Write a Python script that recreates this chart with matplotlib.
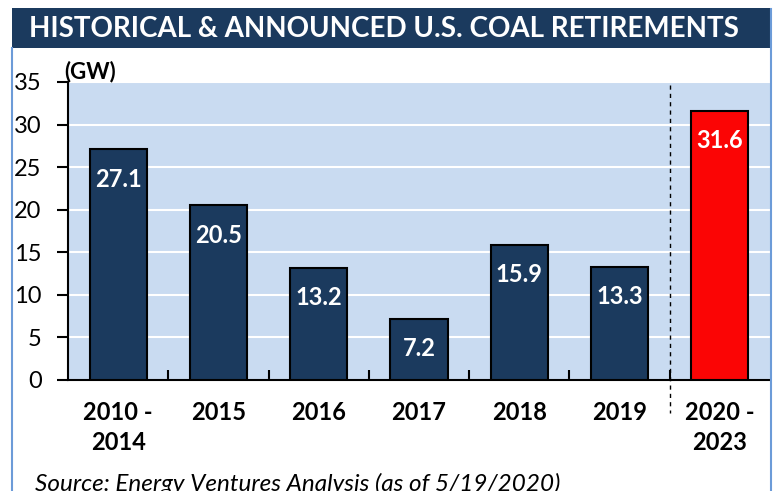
import matplotlib.pyplot as plt
from matplotlib.lines import Line2D
from matplotlib.patches import Rectangle

categories = ["2010 -\n2014", "2015", "2016", "2017", "2018", "2019", "2020 -\n2023"]
values = [27.1, 20.5, 13.2, 7.2, 15.9, 13.3, 31.6]
bar_colors = ["#1B3A5E"] * 6 + ["#FB0505"]
y_ticks = [0, 5, 10, 15, 20, 25, 30, 35]

NAVY = "#1B3A5E"
BG = "#C9DBF1"
BORDER = "#6C9BD8"
FONT = "Lato"

plt.rcParams["font.family"] = [FONT, "DejaVu Sans"]

fig = plt.figure(figsize=(7.74, 4.91), dpi=100)
W, H = 774, 491

# title bar
fig.patches.append(Rectangle((11.5 / W, 1 - 48 / H), (772 - 11.5) / W, 40 / H,
                             transform=fig.transFigure, facecolor=NAVY, edgecolor="none", zorder=0))
fig.text(384 / W, 1 - 29 / H, "HISTORICAL & ANNOUNCED U.S. COAL RETIREMENTS",
         color="white", fontsize=20, fontweight="bold", ha="center", va="center")

# outer frame lines
fig.add_artist(Line2D([12.5 / W, 12.5 / W], [0, 1 - 48 / H], color=BORDER, lw=1.5, transform=fig.transFigure))
fig.add_artist(Line2D([771 / W, 771 / W], [0, 1 - 9 / H], color=BORDER, lw=1.5, transform=fig.transFigure))

ax = fig.add_axes([68 / W, 1 - 380 / H, (770 - 68) / W, (380 - 82) / H])
ax.set_facecolor(BG)

x = list(range(len(categories)))
bars = ax.bar(x, values, width=0.57, color=bar_colors, edgecolor="black", linewidth=1.5, zorder=3)
for xi, v in zip(x, values):
    ax.annotate(f"{v:.1f}", (xi, v), xytext=(0, -21.5), textcoords="offset points",
                ha="center", va="center", color="white", fontsize=17, fontweight="bold", zorder=4)

ax.set_xlim(-0.5, 6.5)
ax.set_ylim(0, 35)
ax.set_yticks(y_ticks)
ax.set_yticklabels([str(t) for t in y_ticks], fontsize=17)
ax.yaxis.grid(True, color="white", linewidth=1.5, zorder=1)
ax.set_axisbelow(True)

ax.set_xticks(x)
ax.set_xticklabels(categories, fontsize=17, fontweight="bold", linespacing=1.4)
ax.set_xticks([i + 0.5 for i in range(6)], minor=True)
ax.tick_params(axis="x", which="major", length=0, pad=15)
ax.tick_params(axis="x", which="minor", direction="in", length=7, width=1.5)
ax.tick_params(axis="y", length=8, width=1.5, pad=11)

for s in ["top", "right"]:
    ax.spines[s].set_visible(False)
ax.spines["left"].set_linewidth(1.5)
ax.spines["bottom"].set_linewidth(1.5)

# divider between historical and announced
ax.plot([5.5, 5.5], [34.7, -3.9], color="black", linestyle=(0, (3, 3)), linewidth=1, clip_on=False, zorder=5)

ax.text(-0.005, 1.0, "(GW)", transform=ax.transAxes, fontsize=16, fontweight="bold",
        ha="left", va="bottom")

fig.text(35 / W, 1 - 484 / H, "Source: Energy Ventures Analysis (as of 5/19/2020)",
         fontsize=17.5, fontstyle="italic", ha="left", va="center")

fig.savefig("out.png", dpi=100)
